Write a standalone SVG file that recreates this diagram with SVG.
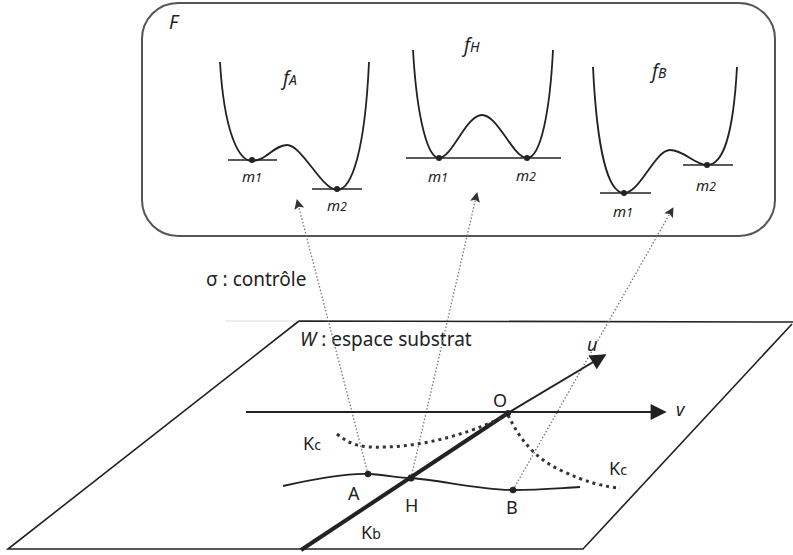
<svg xmlns="http://www.w3.org/2000/svg" width="793" height="555" viewBox="0 0 793 555">
<defs>
<style>
.t{font-family:"Noto Sans","Open Sans",sans-serif;fill:#222}
.i{font-style:italic}
.curve{fill:none;stroke:#222;stroke-width:1.8}
.base{stroke:#222;stroke-width:1.6}
.plane{fill:none;stroke:#222;stroke-width:1.6}
.ctrl{fill:none;stroke:#777;stroke-width:1.3;stroke-dasharray:1.5 2}
.kc{fill:none;stroke:#333;stroke-width:3;stroke-dasharray:3 4}
.dot{fill:#222}
</style>
<marker id="ah" viewBox="0 0 10 10" refX="9" refY="5" markerWidth="11" markerHeight="10" markerUnits="userSpaceOnUse" orient="auto">
<path d="M0,0 L10,5 L0,10 L2,5 z" fill="#333"/>
</marker>
<marker id="big" viewBox="0 0 10 10" refX="9" refY="5" markerWidth="19" markerHeight="16" markerUnits="userSpaceOnUse" orient="auto">
<path d="M0,0 L10,5 L0,10 z" fill="#222"/>
</marker>
</defs>
<rect width="793" height="555" fill="#fff"/>

<g id="F-box">
<rect x="142" y="3" width="633" height="233" rx="36" ry="36" fill="none" stroke="#555" stroke-width="2"/>
<text class="t i" x="169" y="29" font-size="19">F</text>
</g>

<g id="fA">
<path class="curve" d="M220,62 C224,130 238,161 252,161 C266,161 274,145 287,145 C302,145 322,190 337,190 C352,190 365,150 369,62"/>
<line class="base" x1="228" y1="160" x2="277" y2="160"/>
<line class="base" x1="312" y1="189" x2="362" y2="189"/>
<circle class="dot" cx="252" cy="160" r="3"/>
<circle class="dot" cx="337" cy="189" r="3"/>
<text class="t i" x="283" y="85" font-size="19">f<tspan font-size="14">A</tspan></text>
<text class="t i" x="242" y="182" font-size="15">m<tspan font-size="12">1</tspan></text>
<text class="t i" x="327" y="211" font-size="15">m<tspan font-size="12">2</tspan></text>
</g>

<g id="fH">
<path class="curve" d="M413,50 C417,120 428,158 439,158 C452,158 466,115 482,115 C498,115 513,158 527,158 C541,158 550,110 553,50"/>
<line class="base" x1="406" y1="158" x2="561" y2="158"/>
<circle class="dot" cx="439" cy="158" r="3"/>
<circle class="dot" cx="527" cy="158" r="3"/>
<text class="t i" x="464" y="52" font-size="19">f<tspan font-size="14">H</tspan></text>
<text class="t i" x="428" y="182" font-size="15">m<tspan font-size="12">1</tspan></text>
<text class="t i" x="516" y="181" font-size="15">m<tspan font-size="12">2</tspan></text>
</g>

<g id="fB">
<path class="curve" d="M593,67 C597,150 608,193 624,193 C640,193 655,150 670,150 C684,150 695,165 707,165 C722,165 733,140 737,67"/>
<line class="base" x1="600" y1="193" x2="651" y2="193"/>
<line class="base" x1="683" y1="165" x2="733" y2="165"/>
<circle class="dot" cx="624" cy="193" r="3"/>
<circle class="dot" cx="707" cy="165" r="3"/>
<text class="t i" x="652" y="78" font-size="19">f<tspan font-size="14">B</tspan></text>
<text class="t i" x="613" y="217" font-size="15">m<tspan font-size="12">1</tspan></text>
<text class="t i" x="696" y="191" font-size="15">m<tspan font-size="12">2</tspan></text>
</g>

<g id="W-plane">
<line x1="225" y1="321" x2="299" y2="321" stroke="#ddd" stroke-width="1.2"/>
<path class="plane" d="M299,321 L794,322 M792,324 L583,549 L8,549 L299,321"/>
<text class="t" x="300" y="346" font-size="19"><tspan class="i">W</tspan> : espace substrat</text>
</g>

<g id="connectors">
<line class="ctrl" x1="368" y1="474" x2="297" y2="200" marker-end="url(#ah)"/>
<line class="ctrl" x1="411" y1="478" x2="477" y2="193" marker-end="url(#ah)"/>
<line class="ctrl" x1="513" y1="490" x2="673" y2="208" marker-end="url(#ah)"/>
<line x1="246" y1="412" x2="665" y2="412" stroke="#222" stroke-width="1.8" marker-end="url(#big)"/>
<line x1="508" y1="413" x2="605" y2="355" stroke="#222" stroke-width="2" marker-end="url(#big)"/>
<line x1="301" y1="550" x2="508" y2="413" stroke="#222" stroke-width="4"/>
<path class="kc" d="M337,434 C350,445 362,448 385,447 C430,446 480,430 508,414"/>
<path class="kc" d="M508,415 C520,440 535,458 560,470 C585,482 605,487 620,488"/>
<path class="curve" stroke-width="1.4" d="M283,486 C310,480 345,473 368,474 C388,475 398,478 411,478 C440,480 480,490 513,490 C540,490 560,488 580,487"/>
</g>

<g id="points">
<circle class="dot" cx="368" cy="474" r="3.2"/>
<circle class="dot" cx="411" cy="478" r="3.5"/>
<circle class="dot" cx="513" cy="490" r="3.2"/>
<circle class="dot" cx="508" cy="413" r="3"/>
</g>

<g id="labels">
<text class="t" x="206" y="286" font-size="19">σ : contrôle</text>
<text class="t" x="493" y="407" font-size="18">O</text>
<text class="t i" x="676" y="416" font-size="18">v</text>
<text class="t i" x="587" y="351" font-size="18">u</text>
<text class="t" x="303" y="450" font-size="18">K<tspan font-size="14">c</tspan></text>
<text class="t" x="609" y="475" font-size="18">K<tspan font-size="14">c</tspan></text>
<text class="t" x="348" y="500" font-size="18">A</text>
<text class="t" x="405" y="512" font-size="18">H</text>
<text class="t" x="506" y="514" font-size="18">B</text>
<text class="t" x="361" y="539" font-size="18">K<tspan font-size="14">b</tspan></text>
</g>
</svg>
